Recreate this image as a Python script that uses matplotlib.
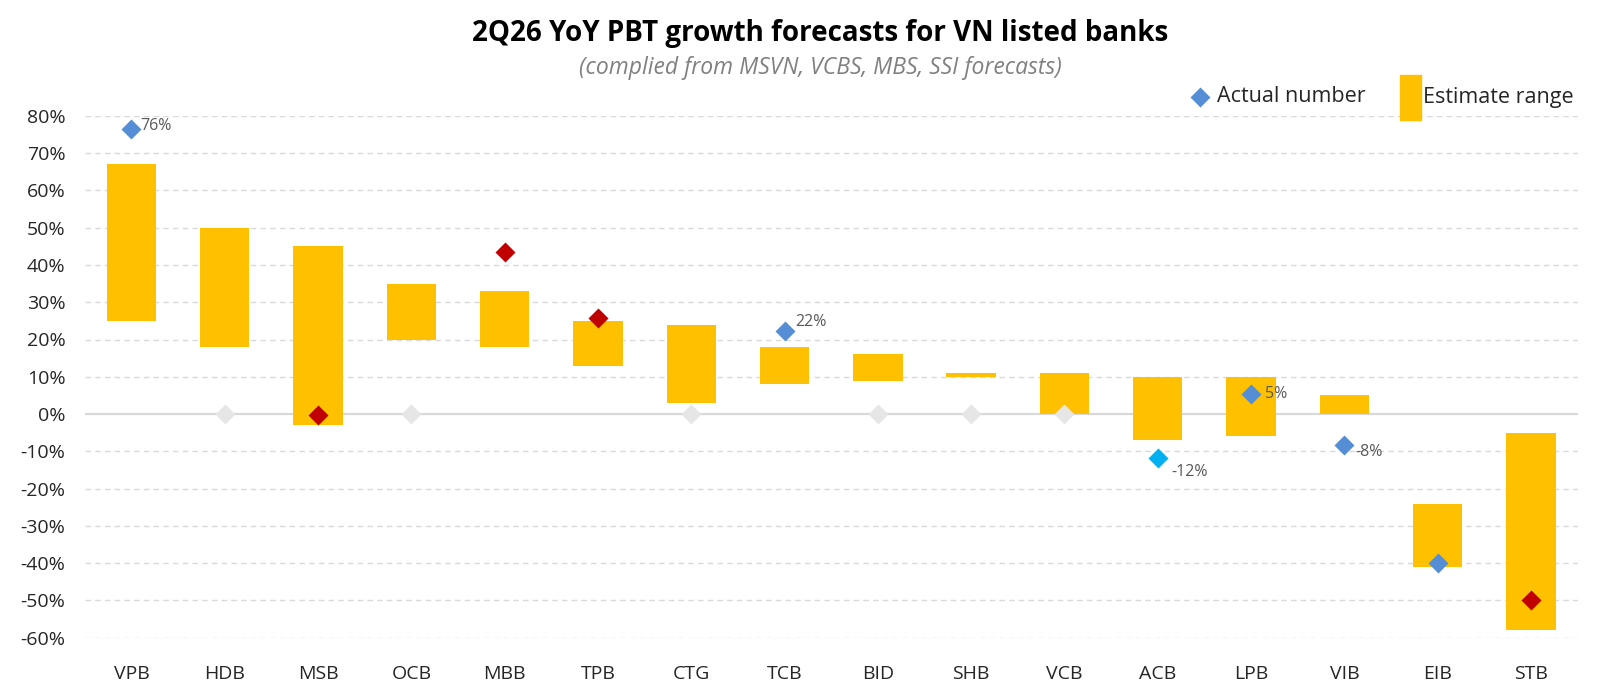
import numpy as np
import matplotlib
matplotlib.use('Agg')
import matplotlib.pyplot as plt
import matplotlib.patches as mpatches
import matplotlib.lines as mlines

plt.rcParams['font.family'] = ['Open Sans', 'DejaVu Sans']

# ---- data (YoY PBT growth, %)
banks = ['VPB', 'HDB', 'MSB', 'OCB', 'MBB', 'TPB', 'CTG', 'TCB',
         'BID', 'SHB', 'VCB', 'ACB', 'LPB', 'VIB', 'EIB', 'STB']
est_low = [25, 18, -3, 20, 18, 13, 3, 8, 9, 10, 0, -7, -6, 0, -41, -58]
est_high = [67, 50, 45, 35, 33, 25, 24, 18, 16, 11, 11, 10, 10, 5, -24, -5]
actual = [76.4, 0, -0.3, 0, 43.6, 25.8, 0, 22.4, 0, 0, 0, -11.8, 5.4, -8.3, -40, -50]
actual_kind = ['blue', 'none', 'red', 'none', 'red', 'red', 'none', 'blue',
               'none', 'none', 'none', 'cyan', 'blue', 'blue', 'blue', 'red']
actual_labels = ['76%', '', '', '', '', '', '', '22%', '', '', '', '-12%', '5%', '-8%', '', '']
yticks = [-60, -50, -40, -30, -20, -10, 0, 10, 20, 30, 40, 50, 60, 70, 80]

kind_colors = {'blue': '#558ED5', 'red': '#C00000', 'cyan': '#00B0F0', 'none': '#E6E6E6'}
# label offsets in points (dx, dy)
label_offsets = {'76%': (6, 2), '22%': (8, 6), '-12%': (10, -10), '5%': (10, 0), '-8%': (8, -5)}

fig = plt.figure(figsize=(16, 7), dpi=100)
ax = fig.add_axes([0.053, 0.089, 0.933, 0.7455])

x = np.arange(len(banks))
low = np.array(est_low) / 100
high = np.array(est_high) / 100
ax.bar(x, high - low, bottom=low, width=0.53, color='#FFC000', zorder=2)

for i, v in enumerate(actual):
    ax.plot(i, v / 100, marker='D', ms=10, color=kind_colors[actual_kind[i]],
            mec='none', zorder=4, clip_on=False)
    lab = actual_labels[i]
    if lab:
        dx, dy = label_offsets[lab]
        ax.annotate(lab, (i, v / 100), xytext=(dx, dy), textcoords='offset points',
                    ha='left', va='center', fontsize=11.5, color='#595959', zorder=5)

ax.set_xlim(-0.5, 15.5)
ax.set_ylim(-0.6, 0.8)
ax.set_yticks([t / 100 for t in yticks])
ax.set_yticklabels([f'{t}%' for t in yticks])
ax.set_xticks(x)
ax.set_xticklabels(banks)
ax.tick_params(axis='both', length=0, labelsize=14, labelcolor='#262626')
ax.tick_params(axis='x', pad=20)
ax.tick_params(axis='y', pad=14)

for t in yticks:
    if t == 0:
        ax.axhline(0, color='#D9D9D9', lw=1.6, zorder=1)
    else:
        ax.axhline(t / 100, color='#D9D9D9', lw=1, ls=(0, (4, 3)), zorder=1)

for s in ax.spines.values():
    s.set_visible(False)

fig.text(0.5125, 0.952, '2Q26 YoY PBT growth forecasts for VN listed banks',
         ha='center', va='center', fontsize=20, fontweight='bold', color='#000000')
fig.text(0.5125, 0.903, '(complied from MSVN, VCBS, MBS, SSI forecasts)',
         ha='center', va='center', fontsize=16.5, style='italic', color='#808080')

# legend drawn by hand to match the tall swatch
fig.add_artist(mlines.Line2D([1200 / 1600], [1 - 97 / 700], marker='D', ms=10,
                             color=kind_colors['blue'], mec='none', transform=fig.transFigure))
fig.text(1217 / 1600, 1 - 97 / 700, 'Actual number', ha='left', va='center',
         fontsize=15.5, color='#262626')
fig.add_artist(mpatches.Rectangle((1400 / 1600, 1 - 120 / 700), 21 / 1600, 45 / 700,
                                  color='#FFC000', transform=fig.transFigure))
fig.text(1423 / 1600, 1 - 97 / 700, 'Estimate range', ha='left', va='center',
         fontsize=15.5, color='#262626')

fig.savefig('out.png', dpi=100, facecolor='white')
